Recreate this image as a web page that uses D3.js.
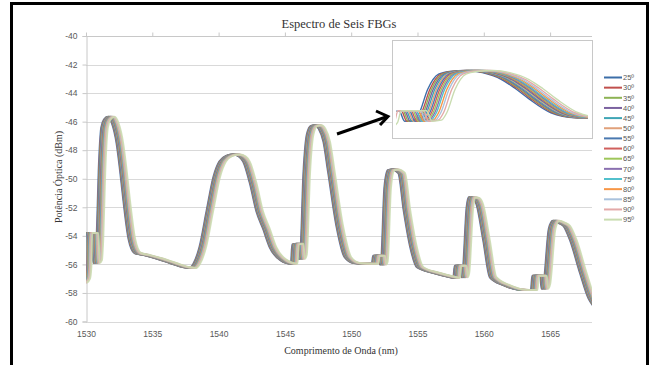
<!DOCTYPE html>
<html>
<head>
<meta charset="utf-8">
<script src="https://cdn.jsdelivr.net/npm/d3@7"></script>
<style>
  body { margin: 0; background: #fff; }
  text { font-family: "Liberation Sans", Arial, sans-serif; }
</style>
</head>
<body>
<div id="chart"></div>
<script>
// series labels (temperature) and their colours
const temps = ['25º', '30º', '35º', '40º', '45º', '50º', '55º', '60º', '65º', '70º', '75º', '80º', '85º', '90º', '95º'];
const colors = ['#3c6ea8', '#c0504d', '#8db354', '#7b62a0', '#3fa5b5', '#e0a07a', '#4a79b0', '#d0605d',
  '#9ec65a', '#8a70b0', '#52c0cc', '#f79646', '#a9c2dd', '#e3a9a8', '#c9dcb0'];
// wavelength shift of each series relative to the base spectrum (nm)
const shifts = [-0.25, -0.21, -0.18, -0.15, -0.12, -0.09, -0.06, -0.03, 0.0, 0.03, 0.06, 0.10, 0.14, 0.19, 0.25];

// base spectrum
const wavelength = [1529.8, 1530.05, 1530.15, 1530.22, 1530.68, 1530.78, 1530.95, 1531.05, 1531.2, 1531.4,
  1531.6, 1531.9, 1532.2, 1532.55, 1532.8, 1533.05, 1533.45, 1533.9, 1534.6, 1535.6,
  1536.55, 1537.6, 1538.05, 1538.35, 1538.8, 1539.35, 1539.85, 1540.3, 1540.8, 1541.35,
  1541.8, 1542.1, 1542.6, 1543.1, 1543.6, 1544.1, 1544.9, 1545.7, 1545.8, 1546.15,
  1546.25, 1546.4, 1546.65, 1546.9, 1547.2, 1547.5, 1547.8, 1548.15, 1548.5, 1549.15,
  1549.75, 1550.4, 1551.4, 1551.8, 1551.9, 1552.3, 1552.4, 1552.5, 1552.75, 1553.0,
  1553.3, 1553.8, 1554.2, 1554.7, 1555.2, 1556.45, 1557.7, 1557.95, 1558.05, 1558.45,
  1558.55, 1558.65, 1558.95, 1559.1, 1559.4, 1559.7, 1560.2, 1560.7, 1561.7, 1563.2,
  1563.8, 1563.9, 1564.5, 1564.6, 1564.75, 1565.15, 1565.45, 1565.9, 1566.25, 1566.75,
  1567.5, 1568.15, 1568.5];
const power = [-57.3, -57.0, -56.2, -53.8, -53.8, -55.9, -55.7, -54.2, -49.5, -46.4,
  -45.85, -45.65, -46.1, -47.5, -49.3, -51.4, -54.2, -55.2, -55.35, -55.6,
  -55.9, -56.2, -56.25, -55.95, -54.8, -52.2, -49.9, -48.8, -48.4, -48.3,
  -48.45, -48.8, -50.3, -52.3, -53.5, -54.8, -55.7, -55.95, -54.6, -54.55,
  -55.6, -55.3, -49.5, -46.9, -46.3, -46.25, -46.5, -47.4, -49.5, -53.4,
  -55.5, -55.9, -55.95, -55.95, -55.4, -55.4, -56.0, -55.8, -50.6, -49.4,
  -49.35, -49.6, -52.2, -54.8, -56.2, -56.6, -56.9, -56.95, -56.1, -56.1,
  -56.9, -56.6, -52.0, -51.3, -51.35, -51.8, -54.3, -56.9, -57.45, -57.8,
  -57.8, -56.8, -56.8, -57.7, -57.4, -53.5, -52.95, -53.1, -53.3, -54.3,
  -56.6, -58.4, -58.9];

const xTicks = [1530, 1535, 1540, 1545, 1550, 1555, 1560, 1565];
const yTicks = [-40, -42, -44, -46, -48, -50, -52, -54, -56, -58, -60];

const W = 651, H = 365;
const svg = d3.select('#chart').append('svg')
  .attr('width', W).attr('height', H);

// frame around the picture
svg.append('path')
  .attr('d', `M11.5,${H + 5} V3.5 H647.5 V${H + 5}`)
  .attr('fill', 'none').attr('stroke', '#000').attr('stroke-width', 3);

const x = d3.scaleLinear().domain([1530, 1568.16]).range([86, 592]);
const y = d3.scaleLinear().domain([-40, -60]).range([36, 321.5]);

// gridlines
svg.append('g').selectAll('line').data(yTicks).enter().append('line')
  .attr('x1', 86).attr('x2', 592)
  .attr('y1', d => Math.round(y(d)) + 0.5).attr('y2', d => Math.round(y(d)) + 0.5)
  .attr('stroke', d => d === -40 ? '#c8c8c8' : '#d9d9d9');

// y axis
const yAxis = svg.append('g').attr('transform', 'translate(86.5,0)')
  .call(d3.axisLeft(y).tickValues(yTicks).tickSize(4).tickPadding(5).tickFormat(d => String(d)));
yAxis.select('.domain').attr('stroke', '#c8c8c8');
yAxis.selectAll('.tick line').attr('stroke', '#c8c8c8');
yAxis.selectAll('text').attr('fill', '#595959').style('font-size', '8.5px');

// category axis line sits at the top with ticks pointing up
const xTop = svg.append('g').attr('transform', `translate(0,${Math.round(y(-40)) + 0.5})`)
  .call(d3.axisTop(x).tickValues(xTicks).tickSize(4).tickFormat(''));
xTop.select('.domain').remove();
xTop.selectAll('.tick line').attr('stroke', '#c8c8c8');

// labels at the bottom
const xBot = svg.append('g').attr('transform', `translate(0,${y(-60)})`)
  .call(d3.axisBottom(x).tickValues(xTicks).tickSize(0).tickPadding(9).tickFormat(d => String(d)));
xBot.select('.domain').remove();
xBot.selectAll('text').attr('fill', '#595959').style('font-size', '8.5px');

// series
const series = temps.map((t, i) => ({
  name: t,
  color: colors[i],
  points: wavelength.map((w, j) => [w + shifts[i], power[j]])
}));

svg.append('clipPath').attr('id', 'plotClip').append('rect')
  .attr('x', 86).attr('y', 30).attr('width', 506).attr('height', 295);

const line = d3.line().x(d => x(d[0])).y(d => y(d[1])).curve(d3.curveMonotoneX);
svg.append('g').attr('clip-path', 'url(#plotClip)')
  .selectAll('path').data(series).enter().append('path')
  .attr('d', d => line(d.points))
  .attr('fill', 'none')
  .attr('stroke', d => d.color)
  .attr('stroke-width', 2)
  .attr('stroke-opacity', 0.85);

// inset (zoom on the first peak)
svg.append('rect')
  .attr('x', 392.5).attr('y', 40.5).attr('width', 200).attr('height', 98)
  .attr('fill', '#fff').attr('stroke', '#c8c8c8');

const xi = d3.scaleLinear().domain([1530.3, 1533.95]).range([392, 592]);
const yi = d3.scaleLinear().domain([-39.5, -59.5]).range([40, 139]);

svg.append('clipPath').attr('id', 'insetClip').append('rect')
  .attr('x', 396).attr('y', 41).attr('width', 192).attr('height', 97);

const lineInset = d3.line().x(d => xi(d[0])).y(d => yi(d[1])).curve(d3.curveMonotoneX);
svg.append('g').attr('clip-path', 'url(#insetClip)')
  .selectAll('path').data(series).enter().append('path')
  .attr('d', d => lineInset(d.points.filter(p => p[0] > 1529.9 && p[0] < 1535)))
  .attr('fill', 'none')
  .attr('stroke', d => d.color)
  .attr('stroke-width', 1.4);

// arrow pointing to the inset
svg.append('line')
  .attr('x1', 337).attr('y1', 134).attr('x2', 386).attr('y2', 117)
  .attr('stroke', '#000').attr('stroke-width', 3);
svg.append('path')
  .attr('d', 'M376,111 L388,116.5 L380,125')
  .attr('fill', 'none').attr('stroke', '#000').attr('stroke-width', 3)
  .attr('stroke-linejoin', 'miter');

// legend
const legend = svg.append('g').selectAll('g').data(series).enter().append('g')
  .attr('transform', (d, i) => `translate(604,${77.5 + i * 10.15})`);
legend.append('line')
  .attr('x1', 0).attr('x2', 18)
  .attr('stroke', d => d.color).attr('stroke-width', 2);
legend.append('text')
  .attr('x', 19).attr('y', 2.7)
  .attr('fill', '#595959').style('font-size', '7.5px')
  .text(d => d.name);

// titles
svg.append('text')
  .attr('x', 339).attr('y', 28)
  .attr('text-anchor', 'middle')
  .style('font-family', '"Liberation Serif", "Times New Roman", serif')
  .style('font-size', '12.5px').attr('fill', '#333')
  .text('Espectro de Seis FBGs');

svg.append('text')
  .attr('x', 341).attr('y', 354)
  .attr('text-anchor', 'middle')
  .style('font-family', '"Liberation Serif", "Times New Roman", serif')
  .style('font-size', '10px').attr('fill', '#333')
  .text('Comprimento de Onda (nm)');

svg.append('text')
  .attr('transform', 'translate(62,177) rotate(-90)')
  .attr('text-anchor', 'middle')
  .style('font-family', '"Liberation Serif", "Times New Roman", serif')
  .style('font-size', '10px').attr('fill', '#333')
  .text('Potência Óptica (dBm)');
</script>
</body>
</html>
